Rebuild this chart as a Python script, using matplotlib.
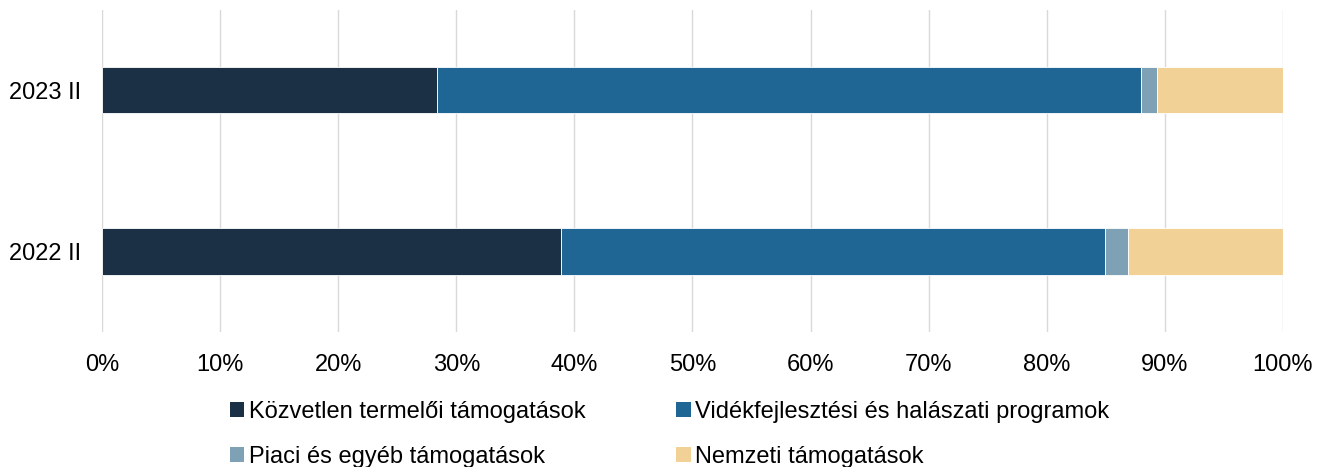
import matplotlib.pyplot as plt
from matplotlib.patches import Patch
from matplotlib.ticker import PercentFormatter

plt.rcParams['font.family'] = ['Liberation Sans', 'DejaVu Sans']

# kategóriák (alulról felfelé)
periods = ['2022 II', '2023 II']

# arányok, %
kozvetlen = [38.9, 28.4]
videk = [46.0, 59.6]
piaci = [2.0, 1.3]
nemzeti = [13.1, 10.7]

labels = ['Közvetlen termelői támogatások', 'Vidékfejlesztési és halászati programok',
          'Piaci és egyéb támogatások', 'Nemzeti támogatások']
colors = ['#1b3045', '#1f6694', '#7fa1b5', '#f2d197']

fig = plt.figure(figsize=(13.27, 4.67), dpi=100)
ax = fig.add_axes([0.0769, 0.289, 0.8899, 0.69])

left = [0.0, 0.0]
for vals, c in zip([kozvetlen, videk, piaci, nemzeti], colors):
    ax.barh(periods, vals, left=left, height=0.286, color=c,
            edgecolor='white', linewidth=0.6, zorder=3)
    left = [l + v for l, v in zip(left, vals)]

ax.set_xlim(0, 100)
ax.set_ylim(-0.5, 1.5)
ax.set_xticks(range(0, 101, 10))
ax.xaxis.set_major_formatter(PercentFormatter(decimals=0))
ax.grid(axis='x', color='#d9d9d9', linewidth=1, zorder=0)
for s in ax.spines.values():
    s.set_visible(False)
ax.tick_params(axis='both', length=0, labelsize=17, colors='black')
ax.tick_params(axis='x', pad=16)
ax.tick_params(axis='y', pad=15)

# legenda sorrendje: oszloponként töltődik, ezért átrendezzük
handles = [Patch(facecolor=c, edgecolor='none') for c in colors]
order = [0, 2, 1, 3]
fig.legend([handles[i] for i in order], [labels[i] for i in order], ncol=2,
           frameon=False, fontsize=17,
           loc='upper left', bbox_to_anchor=(0.1733, 0.141),
           borderpad=0, borderaxespad=0, handlelength=0.6, handleheight=0.6,
           handletextpad=0.2, columnspacing=3.85, labelspacing=0.98)

fig.savefig('out.png', dpi=100)
